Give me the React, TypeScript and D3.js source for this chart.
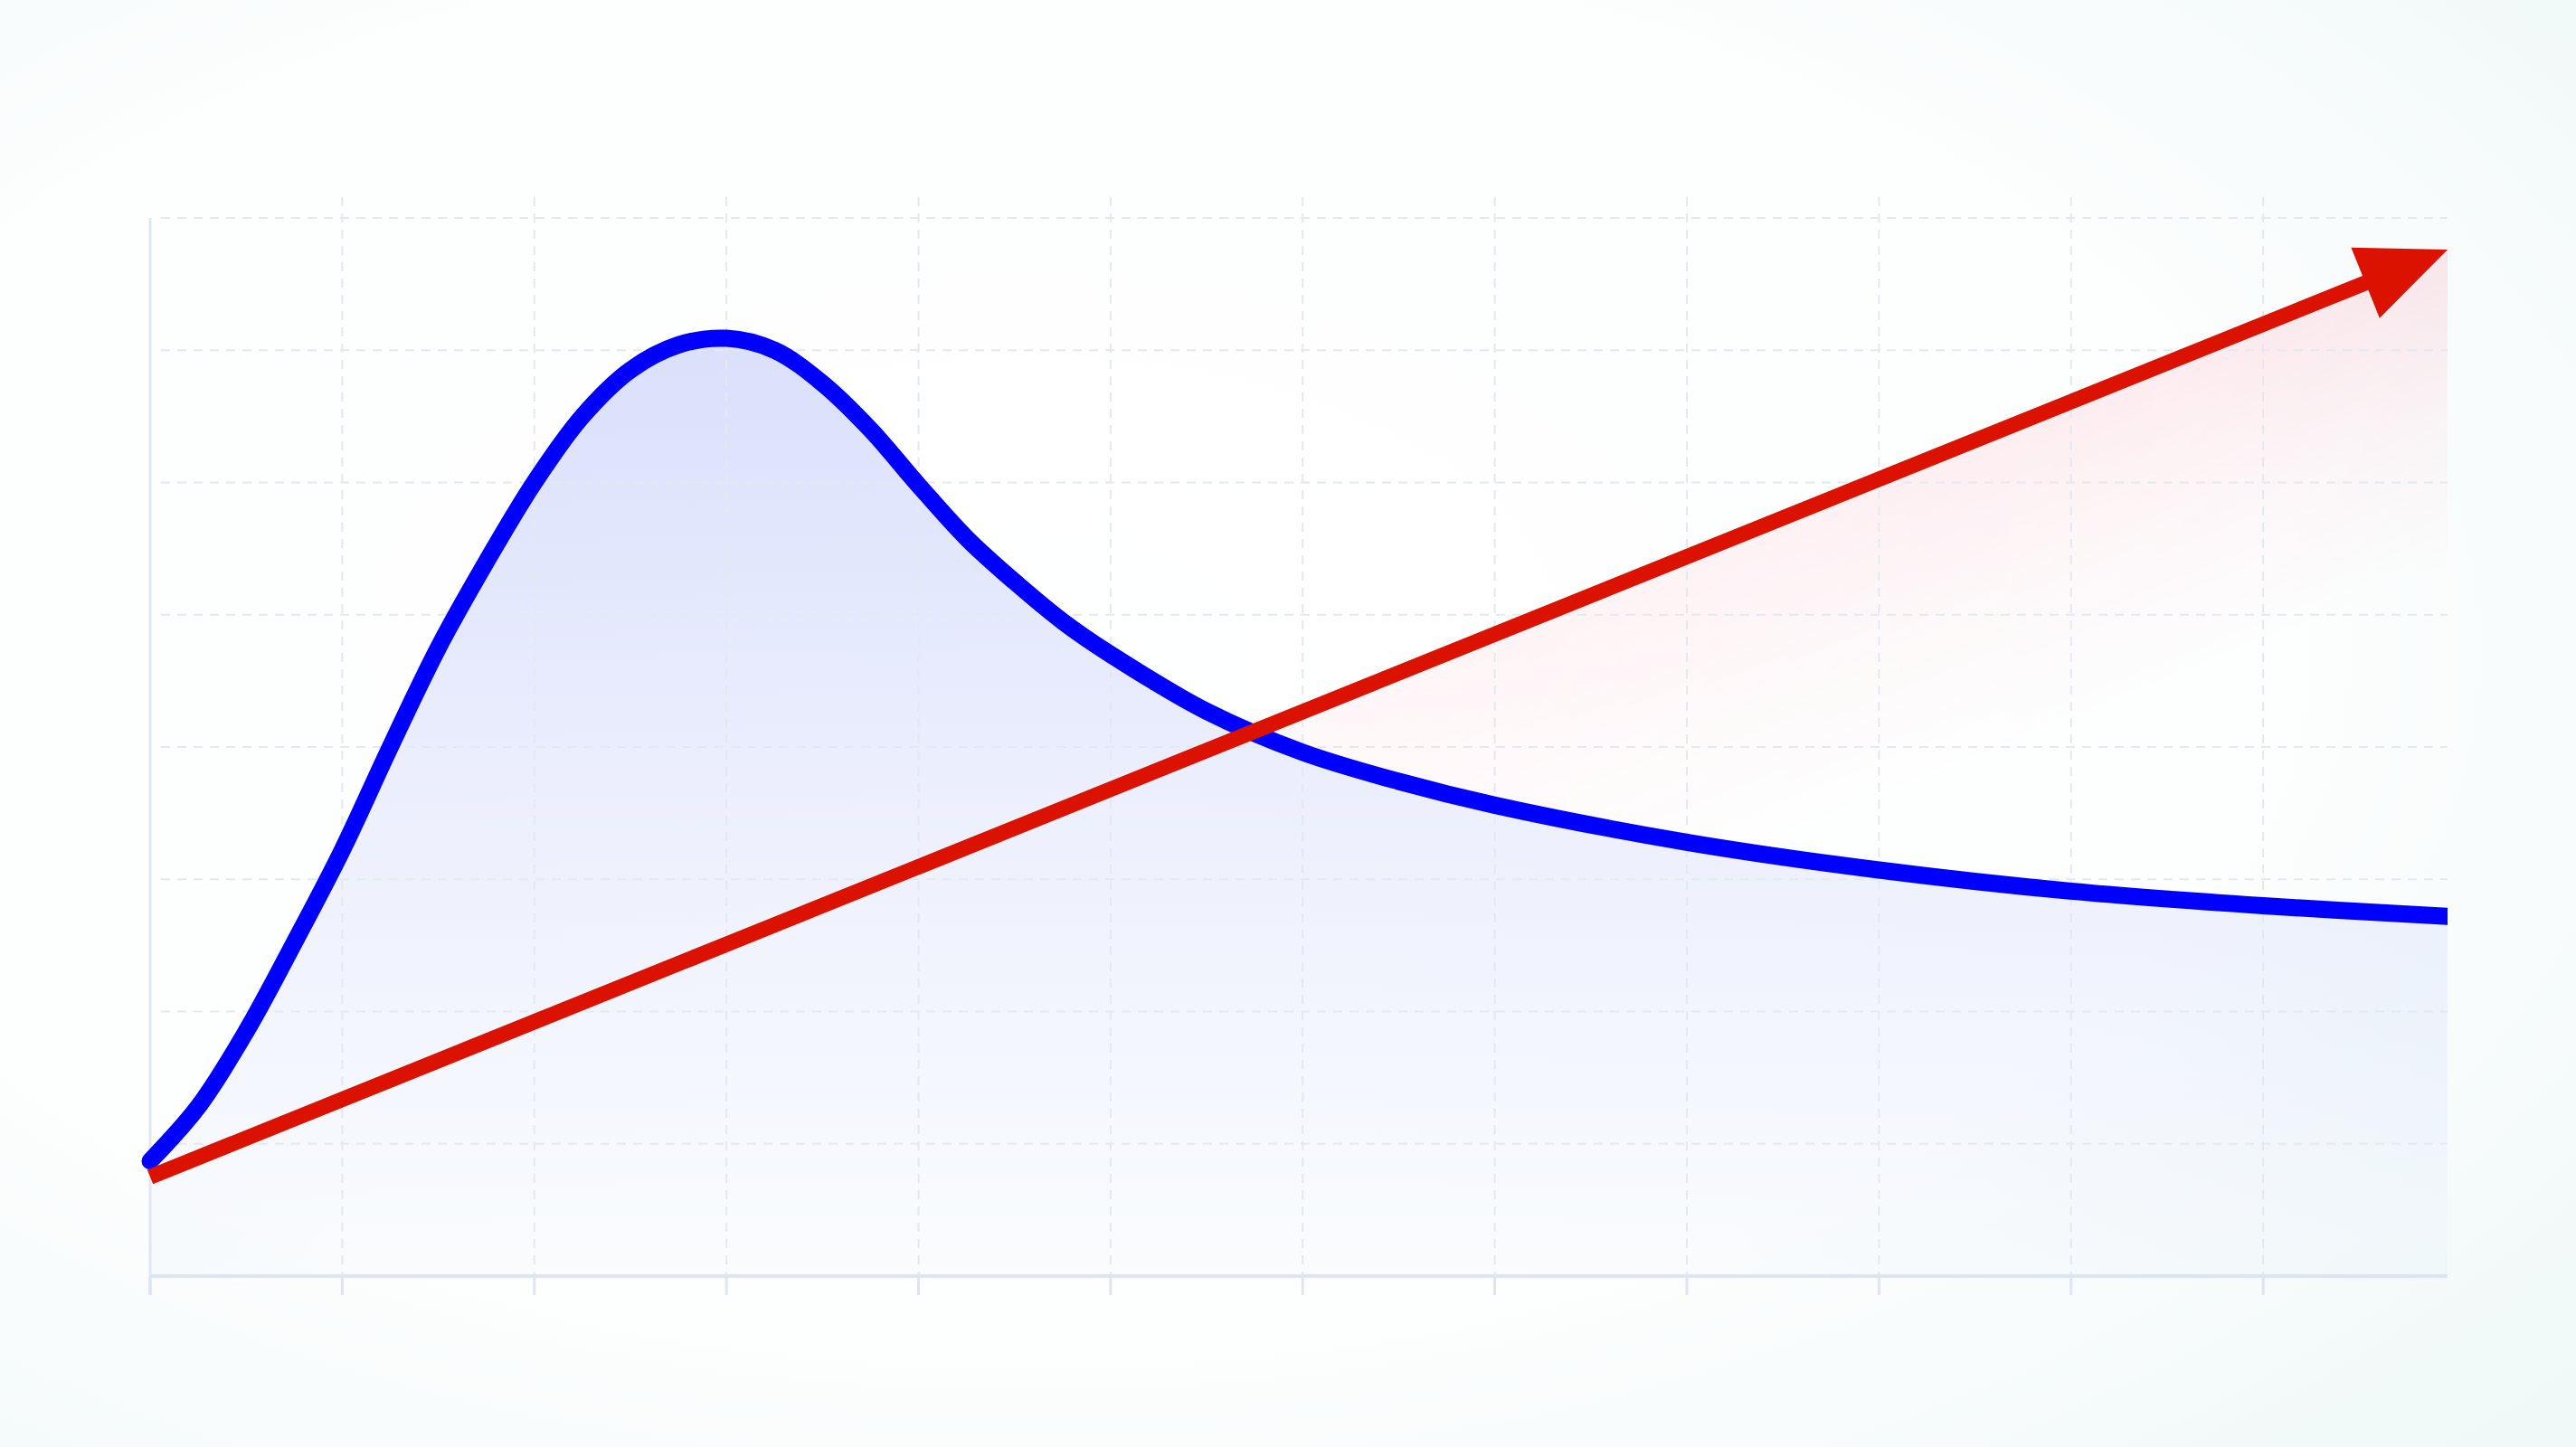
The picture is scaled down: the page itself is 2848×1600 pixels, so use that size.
import React from 'react';
import * as d3 from 'd3';

const W = 2848;
const H = 1600;

// blue series (peaks near x = 3, then decays)
const blueX = [0, 0.25, 0.5, 0.75, 1, 1.25, 1.5, 1.75, 2, 2.25, 2.5, 2.75, 3, 3.25, 3.5, 3.75, 4, 4.25, 4.5, 4.75, 5, 5.5, 6, 6.5, 7, 8, 9, 10, 11, 11.96];
const blueY = [0.87, 1.28, 1.85, 2.52, 3.22, 4.0, 4.75, 5.4, 6.0, 6.5, 6.85, 7.04, 7.09, 7.0, 6.75, 6.4, 5.98, 5.58, 5.25, 4.95, 4.7, 4.27, 3.96, 3.74, 3.56, 3.28, 3.07, 2.91, 2.8, 2.72];

// red series (straight rising arrow)
const redX = [0, 11.96];
const redY = [0.75, 7.76];

const xTicks = [0, 1, 2, 3, 4, 5, 6, 7, 8, 9, 10, 11];
const yTicks = [1, 2, 3, 4, 5, 6, 7, 8];

const App: React.FC = () => {
  const margin = { top: 241, right: 142, bottom: 189, left: 166 };
  const x = d3.scaleLinear().domain([0, 11.96]).range([margin.left, W - margin.right]);
  const y = d3.scaleLinear().domain([0, 8]).range([H - margin.bottom, margin.top]);
  const [x0, x1] = x.range();
  const [yb, yt] = y.range();

  const blue = blueX.map((v, i) => [v, blueY[i]] as [number, number]);
  const red = redX.map((v, i) => [v, redY[i]] as [number, number]);

  const curve = d3.curveCatmullRom.alpha(0.5);
  const blueLine = d3.line<[number, number]>().x(d => x(d[0])).y(d => y(d[1])).curve(curve)(blue)!;
  const blueArea = d3.area<[number, number]>().x(d => x(d[0])).y0(yb).y1(d => y(d[1])).curve(curve)(blue)!;
  const aboveBlue = d3.area<[number, number]>().x(d => x(d[0])).y0(0).y1(d => y(d[1])).curve(curve)(blue)!;
  const redArea = d3.area<[number, number]>().x(d => x(d[0])).y0(yb).y1(d => y(d[1]))(red)!;

  // arrow head at the end of the red line
  const p0: [number, number] = [x(red[0][0]), y(red[0][1])];
  const tip: [number, number] = [x(red[red.length - 1][0]), y(red[red.length - 1][1])];
  const len = Math.hypot(tip[0] - p0[0], tip[1] - p0[1]);
  const ux = (tip[0] - p0[0]) / len;
  const uy = (tip[1] - p0[1]) / len;
  const nx = -uy;
  const ny = ux;
  const headLen = 98;
  const headHalf = 42;
  const bx = tip[0] - ux * headLen;
  const by = tip[1] - uy * headLen;
  const head = `M${tip[0]},${tip[1]}L${bx - uy * headHalf},${by + ux * headHalf}L${bx + uy * headHalf},${by - ux * headHalf}Z`;
  const redLine = d3.line()([p0, [bx + ux * 12, by + uy * 12]])!;

  return (
    <svg width={W} height={H} style={{ position: 'absolute', left: 0, top: 0, display: 'block' }}>
      <defs>
        <radialGradient id="bg" cx="0.4" cy="0.45" r="0.8">
          <stop offset="0" stopColor="#ffffff" />
          <stop offset="0.6" stopColor="#fdfefe" />
          <stop offset="1" stopColor="#f0f8f8" />
        </radialGradient>
        <linearGradient id="blueFill" gradientUnits="userSpaceOnUse" x1="0" y1={y(7.1)} x2="0" y2={yb}>
          <stop offset="0" stopColor="#4a64f0" stopOpacity={0.2} />
          <stop offset="0.5" stopColor="#4a64f0" stopOpacity={0.1} />
          <stop offset="1" stopColor="#5a84f0" stopOpacity={0.02} />
        </linearGradient>
        <linearGradient id="redFill" gradientUnits="userSpaceOnUse"
          x1={tip[0]} y1={tip[1]} x2={tip[0] + nx * 330} y2={tip[1] + ny * 330}>
          <stop offset="0" stopColor="#ff2050" stopOpacity={0.1} />
          <stop offset="0.5" stopColor="#ff2050" stopOpacity={0.04} />
          <stop offset="1" stopColor="#ff2050" stopOpacity={0} />
        </linearGradient>
        <linearGradient id="fadeX" gradientUnits="userSpaceOnUse" x1={x(6)} y1="0" x2={x1} y2="0">
          <stop offset="0" stopColor="#fff" stopOpacity={0.35} />
          <stop offset="1" stopColor="#fff" stopOpacity={1} />
        </linearGradient>
        <mask id="fadeMask">
          <rect width={W} height={H} fill="url(#fadeX)" />
        </mask>
        <clipPath id="aboveBlue">
          <path d={aboveBlue} />
        </clipPath>
        <clipPath id="plot">
          <rect x={x0 - 20} y={0} width={x1 - x0 + 20} height={H} />
        </clipPath>
      </defs>

      <rect width={W} height={H} fill="url(#bg)" />

      {/* fills */}
      <path d={blueArea} fill="url(#blueFill)" />
      <g clipPath="url(#aboveBlue)">
        <path d={redArea} fill="url(#redFill)" mask="url(#fadeMask)" />
      </g>

      {/* grid */}
      {yTicks.map(t => (
        <line key={`h${t}`} x1={x0 + 12} x2={x1} y1={y(t)} y2={y(t)}
          stroke="#e3e9ef" strokeWidth={2} strokeDasharray="10,8" />
      ))}
      {xTicks.filter(t => t > 0).map(t => (
        <line key={`v${t}`} x1={x(t)} x2={x(t)} y1={yt - 23} y2={yb}
          stroke="#e3e9ef" strokeWidth={2} strokeDasharray="10,8" />
      ))}

      {/* axes */}
      <line x1={x0} x2={x0} y1={yt} y2={yb + 21} stroke="#dfe6f4" strokeWidth={3} />
      <line x1={x0} x2={x1} y1={yb} y2={yb} stroke="#dde4f4" strokeWidth={4} />
      {xTicks.map(t => (
        <line key={`t${t}`} x1={x(t)} x2={x(t)} y1={yb} y2={yb + 21} stroke="#dde4f4" strokeWidth={3} />
      ))}

      {/* series */}
      <path d={blueLine} fill="none" stroke="#0000ff" strokeWidth={19} strokeLinecap="round"
        strokeLinejoin="round" clipPath="url(#plot)" />
      <path d={redLine} fill="none" stroke="#dc1200" strokeWidth={17} />
      <path d={head} fill="#dc1200" />
    </svg>
  );
};

export default App;
